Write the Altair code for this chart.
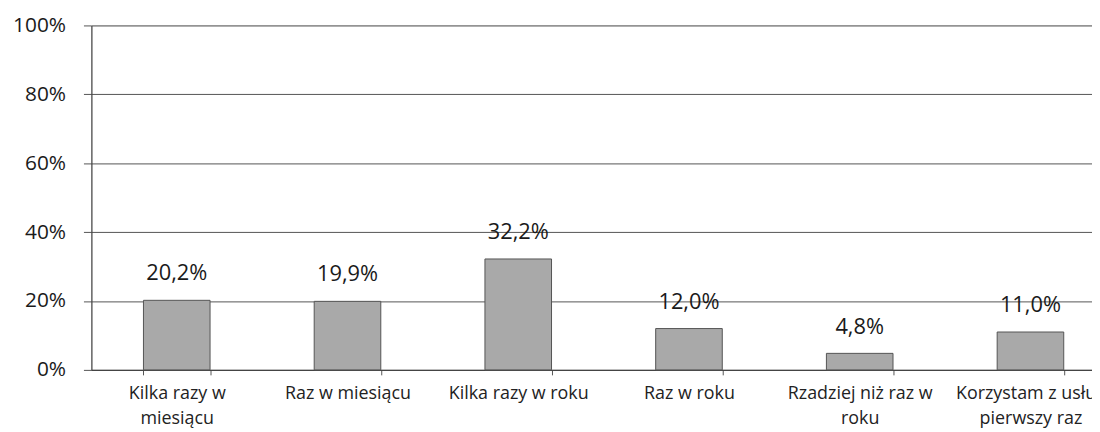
import altair as alt
import pandas as pd

categories = [
    "Kilka razy w\nmiesiącu",
    "Raz w miesiącu",
    "Kilka razy w roku",
    "Raz w roku",
    "Rzadziej niż raz w\nroku",
    "Korzystam z usług\npierwszy raz",
]
values = [20.2, 19.9, 32.2, 12.0, 4.8, 11.0]
labels = ["20,2%", "19,9%", "32,2%", "12,0%", "4,8%", "11,0%"]

df = pd.DataFrame({"cat": categories, "val": values, "lab": labels})

FONT = "Open Sans"

x = alt.X(
    "cat:N",
    sort=categories,
    title=None,
    scale=alt.Scale(range=[0, 1032], paddingInner=0.61, paddingOuter=0.305),
    axis=alt.Axis(
        labelAngle=0,
        labelExpr="split(datum.label, '\\n')",
        labelFont=FONT,
        labelFontSize=18,
        labelColor="#222222",
        labelLineHeight=25,
        labelPadding=10,
        labelLimit=300,
        tickBand="extent",
        tickSize=5,
        tickColor="#555555",
        domainColor="#444444",
        domainWidth=1.2,
        grid=False,
    ),
)

y = alt.Y(
    "val:Q",
    title=None,
    scale=alt.Scale(domain=[0, 100], nice=False),
    axis=alt.Axis(
        values=[0, 20, 40, 60, 80, 100],
        labelExpr="datum.value + '%'",
        labelFont=FONT,
        labelFontSize=21,
        labelColor="#1a1a1a",
        labelPadding=18,
        tickSize=8,
        tickColor="#555555",
        domainColor="#444444",
        domainWidth=1.2,
        grid=True,
        gridColor="#555555",
        gridWidth=1,
    ),
)

bars = alt.Chart(df).mark_bar(
    color="#a9a9a9", stroke="#555555", strokeWidth=1
).encode(x=x, y=y)

text = alt.Chart(df).mark_text(
    font=FONT, fontSize=22, color="#1a1a1a", baseline="middle", dy=-27
).encode(x=alt.X("cat:N", sort=categories), y="val:Q", text="lab:N")

chart = (
    alt.layer(bars, text)
    .properties(
        width=1008,
        height=347,
        autosize=alt.AutoSizeParams(type="none"),
        padding={"left": 84, "top": 16, "right": 0, "bottom": 61},
    )
    .configure_view(stroke=None)
    .configure(background="white")
)

chart.save("out.html", embed_options={"renderer": "svg", "actions": False})
